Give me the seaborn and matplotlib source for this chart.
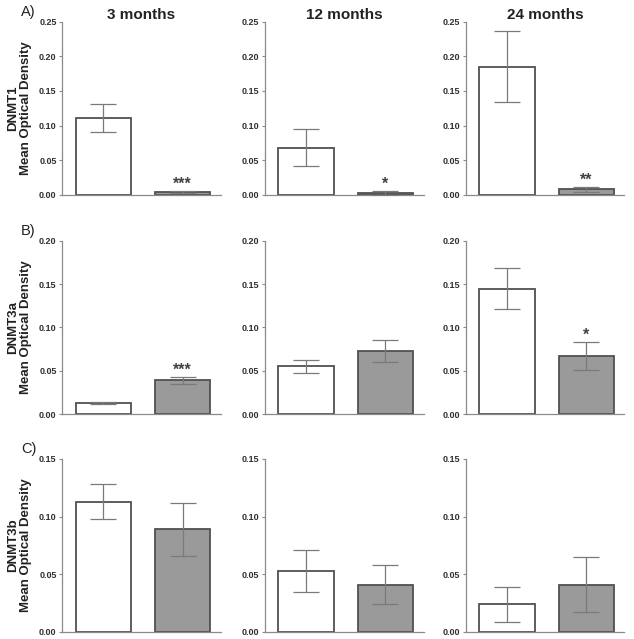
import matplotlib
matplotlib.use("Agg")
import matplotlib.pyplot as plt
import numpy as np
import seaborn as sns

# ---- data ----
ages = ["3 months", "12 months", "24 months"]
groups = ["control", "treated"]
genes = ["DNMT1", "DNMT3a", "DNMT3b"]
panel_tags = ["A)", "B)", "C)"]

dnmt1_mean = [[0.111, 0.004], [0.068, 0.003], [0.185, 0.008]]
dnmt1_err = [[0.020, 0.0012], [0.027, 0.0025], [0.051, 0.004]]
dnmt1_sig = ["***", "*", "**"]

dnmt3a_mean = [[0.013, 0.039], [0.055, 0.073], [0.145, 0.067]]
dnmt3a_err = [[0.0015, 0.004], [0.0075, 0.013], [0.024, 0.016]]
dnmt3a_sig = ["***", "", "*"]

dnmt3b_mean = [[0.113, 0.089], [0.053, 0.041], [0.024, 0.041]]
dnmt3b_err = [[0.015, 0.023], [0.018, 0.017], [0.015, 0.024]]
dnmt3b_sig = ["", "", ""]

y_max = [0.25, 0.20, 0.15]

means = [dnmt1_mean, dnmt3a_mean, dnmt3b_mean]
errs = [dnmt1_err, dnmt3a_err, dnmt3b_err]
sigs = [dnmt1_sig, dnmt3a_sig, dnmt3b_sig]

sns.set_theme(style="ticks")
plt.rcParams["font.family"] = ["Liberation Sans", "DejaVu Sans"]

fig = plt.figure(figsize=(6.34, 6.39), dpi=100)

# axes boxes in figure fractions
col_left = [0.098, 0.418, 0.735]
col_width = 0.25
row_bottom = [0.695, 0.352, 0.011]
row_height = 0.271

spine_col = "#8a8a8a"
edge_col = "#505050"
err_col = "#7a7a7a"
palette = {"control": "#ffffff", "treated": "#9a9a9a"}

for r in range(3):
    for c in range(3):
        ax = fig.add_axes([col_left[c], row_bottom[r], col_width, row_height])
        m = means[r][c]
        e = errs[r][c]
        sns.barplot(x=groups, y=m, hue=groups, palette=palette, legend=False,
                    width=0.7, edgecolor=edge_col, linewidth=1.3, ax=ax)
        ax.errorbar(groups, m, yerr=e, fmt="none", ecolor=err_col,
                    elinewidth=0.9, capsize=9.5, capthick=0.9, zorder=3)
        if sigs[r][c]:
            ax.text(1, m[1] + e[1] - y_max[r] * 0.005, sigs[r][c], ha="center",
                    va="bottom", fontsize=11.5, fontweight="bold", color="#404040")

        ax.set_xlim(-0.52, 1.48)
        ax.set_ylim(0, y_max[r])
        ticks = np.arange(0, y_max[r] + 1e-9, 0.05)
        ax.set_yticks(ticks)
        ax.set_yticklabels([f"{v:.2f}" for v in ticks])
        ax.set_xticks([])
        ax.set_xlabel("")
        ax.set_ylabel("")
        ax.tick_params(axis="y", labelsize=6.5, colors=spine_col, labelcolor="#303030",
                       length=2.5, width=0.8, pad=1.5)
        for lab in ax.get_yticklabels():
            lab.set_fontweight("bold")
        sns.despine(ax=ax)
        for side in ["left", "bottom"]:
            ax.spines[side].set_color(spine_col)
            ax.spines[side].set_linewidth(0.9)

        if r == 0:
            ax.set_title(ages[c], fontsize=11, fontweight="bold", color="#222222", pad=-2)
        if c == 0:
            ax.set_ylabel(f"{genes[r]}\nMean Optical Density", fontsize=9.5,
                          fontweight="bold", color="#222222", labelpad=5, linespacing=1.15)
            ax.text(-0.26, 1.015, panel_tags[r], transform=ax.transAxes, fontsize=10.5,
                    color="#222222", ha="left", va="bottom")

fig.savefig("out.png", dpi=100)
